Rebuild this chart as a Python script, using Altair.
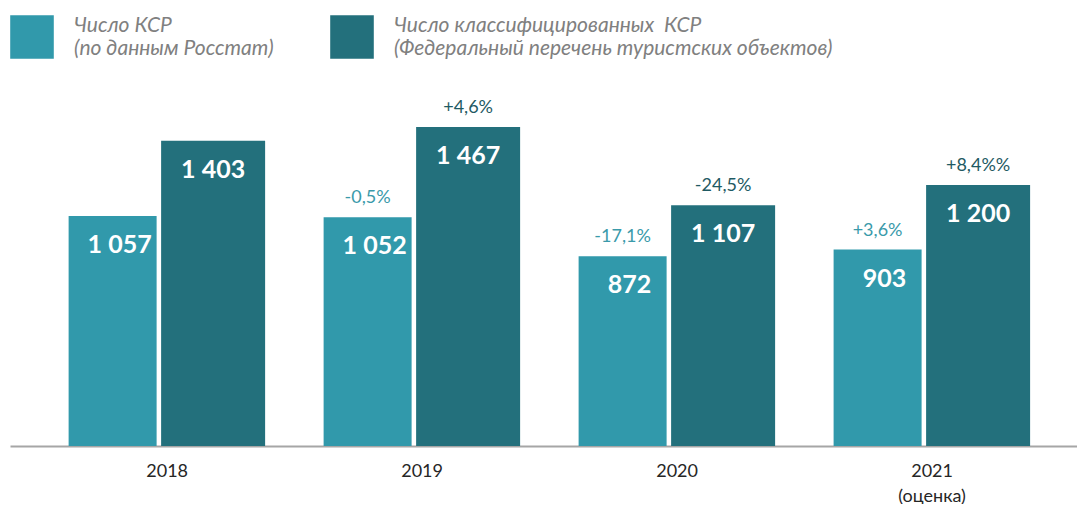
import altair as alt
import pandas as pd

years = ["2018", "2019", "2020", "2021\n(оценка)"]
series_names = [
    "Число КСР\n(по данным Росстат)",
    "Число классифицированных\u00a0 КСР\n(Федеральный перечень туристских объектов)",
]
rosstat = [1057, 1052, 872, 903]
federal = [1403, 1467, 1107, 1200]
rosstat_change = ["", "-0,5%", "-17,1%", "+3,6%"]
federal_change = ["", "+4,6%", "-24,5%", "+8,4%%"]

LIGHT = "#3199ab"
DARK = "#23707c"

rows = []
for i, y in enumerate(years):
    rows.append(dict(year=y, series=series_names[0], value=rosstat[i], change=rosstat_change[i]))
    rows.append(dict(year=y, series=series_names[1], value=federal[i], change=federal_change[i]))
df = pd.DataFrame(rows)
df["label"] = df["value"].map(lambda v: f"{v:,}".replace(",", " "))

FONT = "Lato"

x = alt.X(
    "year:N",
    sort=years,
    scale=alt.Scale(paddingInner=0, paddingOuter=0.0922, align=0.63),
    axis=alt.Axis(
        title=None,
        labelExpr="split(datum.label, '\\n')",
        domainColor="#a6a6a6",
        domainWidth=2,
        ticks=False,
        labelAngle=0,
        labelFontSize=18,
        labelFont=FONT,
        labelColor="#262626",
        labelPadding=16,
        labelLineHeight=25,
        grid=False,
    ),
)
y = alt.Y("value:Q", scale=alt.Scale(domain=[0, 1600]), axis=None)

color = alt.Color(
    "series:N",
    scale=alt.Scale(domain=series_names, range=[LIGHT, DARK]),
    legend=alt.Legend(
        title=None,
        orient="none",
        legendX=0,
        legendY=-83,
        direction="horizontal",
        symbolType="square",
        symbolSize=1900,
        symbolStrokeWidth=0,
        symbolOpacity=1,
        labelExpr="split(datum.label, '\\n')",
        labelFont=FONT,
        labelFontStyle="italic",
        labelFontSize=21,
        labelBaseline="line-bottom",
        labelColor="#808080",
        labelLimit=600,
        labelOffset=20,
        columnPadding=56,
        padding=0,
    ),
)

base = alt.Chart(df)
s1 = alt.datum.series == series_names[0]
s2 = alt.datum.series == series_names[1]

bars1 = base.transform_filter(s1).mark_bar(width=88, xOffset=-54.5).encode(x=x, y=y, color=color)
bars2 = base.transform_filter(s2).mark_bar(width=104, xOffset=46).encode(x=x, y=y, color=color)

val1 = base.transform_filter(s1).mark_text(
    xOffset=-47.5, dy=29, baseline="middle", align="center",
    font=FONT, fontSize=25, fontWeight="bold", color="white",
).encode(x=x, y=y, text="label:N")
val2 = base.transform_filter(s2).mark_text(
    xOffset=46, dy=29, baseline="middle", align="center",
    font=FONT, fontSize=25, fontWeight="bold", color="white",
).encode(x=x, y=y, text="label:N")

chg1 = base.transform_filter(s1).mark_text(
    xOffset=-54.5, dy=-19, baseline="middle", align="center",
    font=FONT, fontSize=18, color="#3a9aaa",
).encode(x=x, y=y, text="change:N")
chg2 = base.transform_filter(s2).mark_text(
    xOffset=46, dy=-19, baseline="middle", align="center",
    font=FONT, fontSize=18, color="#1f5a63",
).encode(x=x, y=y, text="change:N")

chart = (
    alt.layer(bars1, bars2, val1, val2, chg1, chg2)
    .properties(
        width=1067,
        height=348,
        autosize=alt.AutoSizeParams(type="none"),
        padding={"left": 2, "top": 90, "right": 0, "bottom": 58},
    )
    .configure_view(stroke=None)
)

chart.save("out.html", embed_options={"renderer": "svg", "actions": False})
